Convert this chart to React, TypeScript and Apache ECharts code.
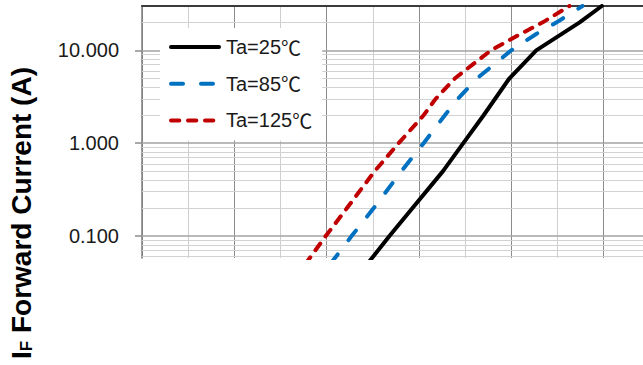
import React, { useEffect, useRef } from "react";
import * as echarts from "echarts";

// ---- data ----
const seriesNames = ["Ta=25℃", "Ta=85℃", "Ta=125℃"];

// forward voltage (V) / forward current (A)
const vf25 = [2.44, 2.68, 2.93, 3.26, 3.48, 3.7, 3.98, 4.27, 4.74, 4.98];
const if25 = [0.05, 0.1, 0.2, 0.5, 1, 2, 5, 10, 20, 30];

const vf85 = [2.04, 2.27, 2.51, 2.81, 3.05, 3.28, 3.42, 3.63, 4.0, 4.27, 4.49, 4.77];
const if85 = [0.05, 0.1, 0.2, 0.5, 1, 2, 3, 5, 10, 15, 20, 30];

const vf125 = [1.77, 1.99, 2.22, 2.52, 2.78, 3.05, 3.18, 3.39, 3.78, 4.1, 4.34, 4.63];
const if125 = [0.05, 0.1, 0.2, 0.5, 1, 2, 3, 5, 10, 15, 20, 30];

const yTickValues = [0.1, 1, 10];
const yMajorGrid = [0.1, 1, 10];
const yMinorGrid = [0.06, 0.07, 0.08, 0.09, 0.2, 0.3, 0.4, 0.5, 0.6, 0.7, 0.8, 0.9, 2, 3, 4, 5, 6, 7, 8, 9, 20];

const yTitleMain = "I";
const yTitleSub = "F";
const yTitleRest = " Forward Current (A)";

export default function App() {
  const ref = useRef<HTMLDivElement>(null);

  useEffect(() => {
    const chart = echarts.init(ref.current as HTMLDivElement, null, { renderer: "svg" });
    const font = "'Liberation Sans', Arial, sans-serif";
    const cjk = "'Noto Sans CJK SC', 'Noto Sans CJK JP', sans-serif";
    const zip = (xs: number[], ys: number[]) => xs.map((x, i) => [x, ys[i]]);

    const option: any = {
      animation: false,
      grid: { left: 142, top: 6, width: 554, height: 252, containLabel: false },
      legend: {
        data: seriesNames,
        orient: "vertical",
        left: 160,
        top: 28,
        backgroundColor: "#ffffff",
        padding: [8, 10, 9, 9],
        itemWidth: 48,
        itemHeight: 14,
        itemGap: 14.7,
        formatter: (name: string) => {
          const i = name.indexOf("℃");
          return i >= 0 ? name.slice(0, i) + "{c|℃}" : name;
        },
        textStyle: {
          fontFamily: font,
          fontSize: 20,
          color: "#1a1a1a",
          lineHeight: 22,
          padding: [0, 0, 0, 2],
          rich: { c: { fontFamily: cjk, fontSize: 20, color: "#1a1a1a", lineHeight: 22 } },
        },
        lineStyle: { width: "inherit" },
        itemStyle: { opacity: 0 },
        z: 6,
      },
      graphic: [
        {
          type: "text",
          x: 21,
          y: 213,
          rotation: Math.PI / 2,
          style: {
            text: "{a|" + yTitleMain + "}{b|" + yTitleSub + "}{a|" + yTitleRest + "}",
            align: "center",
            verticalAlign: "middle",
            rich: {
              a: { fontSize: 28, fontWeight: "bold", fontFamily: font, fill: "#000", verticalAlign: "bottom" },
              b: { fontSize: 17, fontWeight: "bold", fontFamily: font, fill: "#000", verticalAlign: "bottom" },
            },
          },
        },
      ],
      xAxis: [
        {
          type: "value",
          min: 0,
          max: 6,
          interval: 1,
          axisLine: { show: false, onZero: false },
          axisTick: { show: false },
          axisLabel: { show: false },
          splitLine: { show: true, lineStyle: { color: "#8c8c8c", width: 1 } },
          minorTick: { show: false, splitNumber: 2 },
          minorSplitLine: { show: true, lineStyle: { color: "#cfcfcf", width: 1 } },
        },
        {
          type: "value",
          position: "top",
          min: 0,
          max: 6,
          interval: 1,
          axisLine: { show: true, onZero: false, lineStyle: { color: "#3a3a3a", width: 2 } },
          axisTick: { show: false },
          axisLabel: { show: false },
          splitLine: { show: false },
        },
      ],
      yAxis: {
        type: "log",
        logBase: 10,
        min: 0.058,
        max: 30,
        axisLine: { show: true, onZero: false, lineStyle: { color: "#7f7f7f", width: 1.5 } },
        axisTick: {
          show: true,
          length: 7,
          customValues: yTickValues,
          lineStyle: { color: "#8c8c8c", width: 1.5 },
        },
        axisLabel: {
          customValues: yTickValues,
          margin: 23,
          formatter: (v: number) => Number(v).toFixed(3),
          fontFamily: font,
          fontSize: 20,
          color: "#1a1a1a",
        },
        splitLine: { show: false },
      },
      series: [
        {
          type: "line",
          data: [],
          silent: true,
          z: 1,
          markLine: {
            silent: true,
            z: 1,
            symbol: "none",
            label: { show: false },
            animation: false,
            data: [
              ...yMinorGrid.map((v) => ({ yAxis: v, lineStyle: { color: "#d2d2d2", width: 1, type: "solid" } })),
              ...yMajorGrid.map((v) => ({ yAxis: v, lineStyle: { color: "#a3a3a3", width: 1.5, type: "solid" } })),
            ],
          },
        },
        {
          name: seriesNames[0],
          type: "line",
          data: zip(vf25, if25),
          symbol: "none",
          z: 3,
          lineStyle: { color: "#000000", width: 4, type: "solid", cap: "round", join: "round" },
          itemStyle: { color: "#000000" },
        },
        {
          name: seriesNames[1],
          type: "line",
          data: zip(vf85, if85),
          symbol: "none",
          z: 3,
          lineStyle: { color: "#0070C0", width: 4, type: [12, 18], cap: "round", join: "round" },
          itemStyle: { color: "#0070C0" },
        },
        {
          name: seriesNames[2],
          type: "line",
          data: zip(vf125, if125),
          symbol: "none",
          z: 3,
          lineStyle: { color: "#C00000", width: 4, type: [8.3, 8.7], cap: "round", join: "round" },
          itemStyle: { color: "#C00000" },
        },
      ],
    };

    chart.setOption(option);
    return () => chart.dispose();
  }, []);

  return (
    <div style={{ position: "absolute", left: 0, top: 0, width: 643, height: 365, overflow: "hidden", background: "#fff" }}>
      <div ref={ref} style={{ width: 720, height: 365 }} />
    </div>
  );
}
